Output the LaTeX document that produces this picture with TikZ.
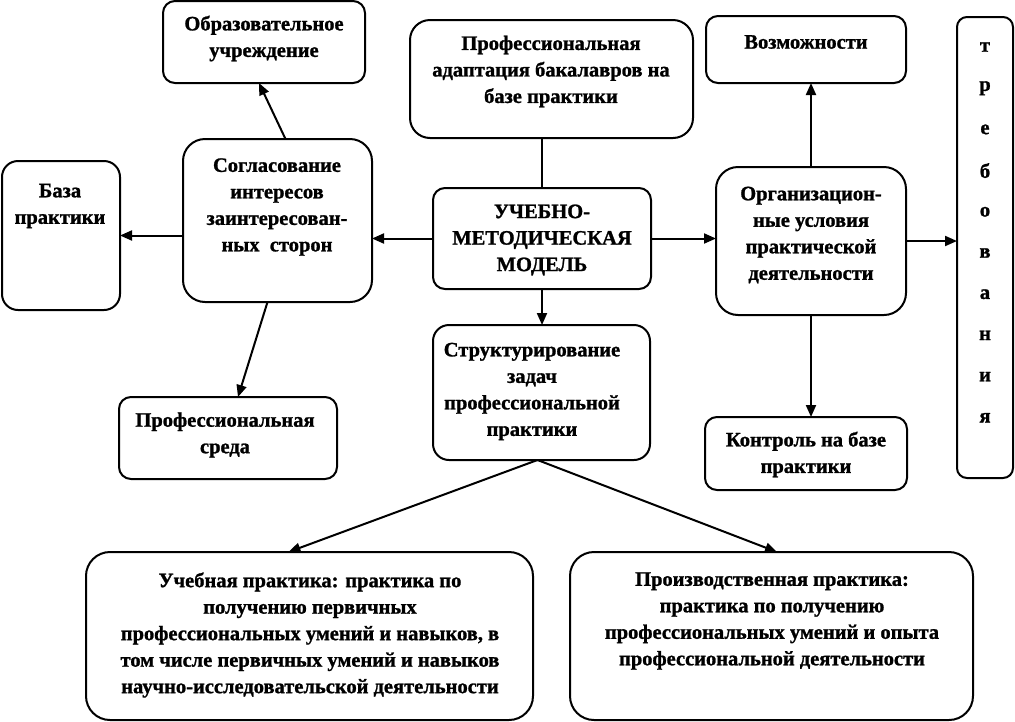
\documentclass[tikz,border=0pt]{standalone}
\usepackage{fontspec}
\setmainfont{Liberation Serif}[BoldFeatures={FakeBold=1.2}]
\usetikzlibrary{arrows.meta,calc}
\begin{document}
\begin{tikzpicture}[x=1pt,y=-1pt,
  box/.style={draw, line width=2pt, rounded corners=16pt, inner sep=0pt, outer sep=0pt},
  sbox/.style={box, rounded corners=12pt},
  txt/.style={align=center, inner sep=0pt, font=\fontsize{20.5}{26.5}\selectfont\bfseries},
  arr/.style={line width=2pt, -{Triangle[length=12pt,width=10pt]}},
  ln/.style={line width=2pt}]
\useasboundingbox (0,0) rectangle (1015,721);
\fill[white] (0,0) rectangle (1015,721);
% boxes
\node[sbox, minimum width=202pt, minimum height=82pt] (obr) at (264,42) {};
\node[box, minimum width=118pt, minimum height=149pt] (baza) at (61,235.5) {};
\node[box, rounded corners=22pt, minimum width=189pt, minimum height=163pt] (sogl) at (277.5,220.5) {};
\node[box, rounded corners=20pt, minimum width=283pt, minimum height=118pt] (adapt) at (551.5,79) {};
\node[sbox, minimum width=218pt, minimum height=101pt] (ucheb) at (542,238.5) {};
\node[sbox, minimum width=200pt, minimum height=67pt] (vozm) at (806,49.5) {};
\node[box, rounded corners=22pt, minimum width=190pt, minimum height=148pt] (org) at (811,241) {};
\node[sbox, rounded corners=10pt, minimum width=56pt, minimum height=461pt] (treb) at (985,247.5) {};
\node[box, minimum width=217pt, minimum height=135pt] (struct) at (541.5,392.5) {};
\node[sbox, minimum width=218pt, minimum height=82pt] (sreda) at (228,438) {};
\node[sbox, minimum width=202pt, minimum height=73pt] (kontr) at (806,453.5) {};
\node[box, rounded corners=24pt, minimum width=447pt, minimum height=168pt] (uchpr) at (309.5,636) {};
\node[box, rounded corners=24pt, minimum width=403pt, minimum height=168pt] (proizv) at (771.5,636) {};
% texts
\node[txt] (tobr) at (264,38.5) {Образовательное\\учреждение};
\node[txt] (tbaza) at (60,206) {База\\практики};
\node[txt] (tsogl) at (277,207) {Согласование\\интересов\\заинтересован-\\ных\ \ сторон};
\node[txt] (tadapt) at (551,71.5) {Профессиональная\\адаптация бакалавров на\\базе практики};
\node[txt] (tucheb) at (542,240) {УЧЕБНО-\\МЕТОДИЧЕСКАЯ\\МОДЕЛЬ};
\node[txt] (tvozm) at (806,42) {Возможности};
\node[txt] (torg) at (811,235) {Организацион-\\ные условия\\практической\\деятельности};
\node[txt] (tstruct) at (532,391.5) {Структурирование\\задач\\профессиональной\\практики};
\node[txt] (tsreda) at (225,435) {Профессиональная\\среда};
\node[txt] (tkontr) at (806,454.5) {Контроль на базе\\практики};
\node[txt] (tuchpr) at (310,635) {Учебная практика: практика по\\получению первичных\\профессиональных умений и навыков, в\\том числе первичных умений и навыков\\научно-исследовательской деятельности};
\node[txt] (tproizv) at (772,621) {Производственная практика:\\практика по получению\\профессиональных умений и опыта\\профессиональной деятельности};
\foreach \l [count=\i from 0] in {т,р,е,б,о,в,а,н,и,я}
  \node[txt] (tr\i) at (985,{47+41.2*\i}) {\l};
% connectors
\draw[arr] ([xshift=8pt]sogl.north) -- ([xshift=-5pt]obr.south);
\draw[arr] (sogl.west |- baza.east) -- (baza.east);
\draw[arr] (ucheb.west) -- (ucheb.west -| sogl.east);
\draw[arr] (ucheb.east) -- (ucheb.east -| org.west);
\draw[arr] (org.east) -- (org.east -| treb.west);
\draw[ln] (ucheb.north) -- (ucheb.north |- adapt.south);
\draw[arr] (ucheb.south) -- (ucheb.south |- struct.north);
\draw[arr] (org.north) -- (org.north |- vozm.south);
\draw[arr] (org.south) -- (org.south |- kontr.north);
\draw[arr] ([xshift=-10pt]sogl.south) -- ([xshift=10pt]sreda.north);
\draw[arr] ([xshift=-4pt]struct.south) -- ([xshift=-21pt]uchpr.north);
\draw[arr] ([xshift=-4pt]struct.south) -- ([xshift=5.5pt]proizv.north);
\end{tikzpicture}
\end{document}
